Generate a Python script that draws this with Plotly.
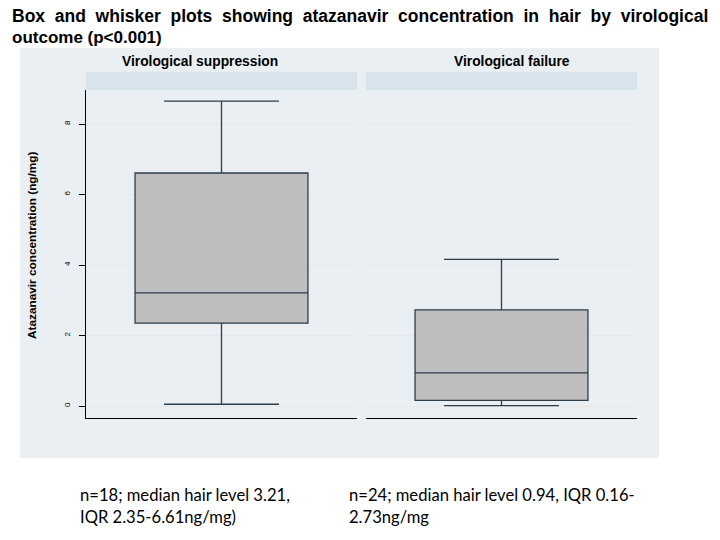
import plotly.graph_objects as go

# Data (box statistics, ng/mg)
groups = ["Virological suppression", "Virological failure"]
lower_whisker = [0.05, 0.01]
q1_vals = [2.35, 0.16]
median_vals = [3.21, 0.94]
q3_vals = [6.61, 2.73]
upper_whisker = [8.65, 4.16]
y_ticks = [0, 2, 4, 6, 8]
notes = ["n=18; median hair level 3.21,<br>IQR 2.35-6.61ng/mg)",
         "n=24; median hair level 0.94, IQR 0.16-<br>2.73ng/mg"]
title_line1 = "Box and whisker plots showing atazanavir concentration in hair by virological"
title_line2 = "outcome (p<0.001)"

W, H = 720, 540
def px(x): return x / W
def py(y): return 1 - y / H

BOX_LINE = "#2d3e4c"
BOX_FILL = "#bebebe"
OUTER_BG = "#e9eff2"
STRIP_BG = "#d9e5ec"

fig = go.Figure()
for i, g in enumerate(groups):
    fig.add_trace(go.Box(
        x=[0], q1=[q1_vals[i]], median=[median_vals[i]], q3=[q3_vals[i]],
        lowerfence=[lower_whisker[i]], upperfence=[upper_whisker[i]],
        name=g, width=0.638, whiskerwidth=0.665,
        fillcolor=BOX_FILL, line=dict(color=BOX_LINE, width=1.3),
        boxpoints=False, hoverinfo="skip",
        xaxis="x" if i == 0 else "x2", yaxis="y" if i == 0 else "y2",
    ))

panels = [(86, 357), (366, 637)]
yrange = [-0.34, 8.965]
axis_common = dict(range=[-0.5, 0.5], showticklabels=False, ticks="", showgrid=False,
                   zeroline=False, showline=True, linecolor="black", linewidth=1.2,
                   mirror=False)
fig.update_layout(
    width=W, height=H, margin=dict(l=0, r=0, t=0, b=0),
    paper_bgcolor="white", plot_bgcolor="white", showlegend=False,
    xaxis=dict(domain=[px(86), px(357)], anchor="y", **axis_common),
    xaxis2=dict(domain=[px(366), px(637)], anchor="y2", **axis_common),
    yaxis=dict(domain=[py(418), py(90)], range=yrange, tickvals=y_ticks,
               ticktext=[str(v) for v in y_ticks], tickangle=-90,
               ticks="outside", ticklen=6, tickcolor="black", tickwidth=1,
               ticklabelstandoff=6,
               tickfont=dict(family="Liberation Sans", size=8, color="black"),
               showgrid=True, gridcolor="#e8e8e8", gridwidth=1, zeroline=False,
               showline=True, linecolor="black", linewidth=1.2, anchor="x"),
    yaxis2=dict(domain=[py(418), py(90)], range=yrange, tickvals=y_ticks,
                showticklabels=False, ticks="", showgrid=True, gridcolor="#e8e8e8",
                gridwidth=1, zeroline=False, showline=False, anchor="x2",
                matches="y"),
)

shapes = [
    dict(type="rect", xref="paper", yref="paper", x0=px(20), x1=px(659),
         y0=py(458), y1=py(48), fillcolor=OUTER_BG, line=dict(width=0), layer="below"),
]
for (a, b) in panels:
    shapes.append(dict(type="rect", xref="paper", yref="paper", x0=px(a), x1=px(b),
                       y0=py(90), y1=py(71.7), fillcolor=STRIP_BG, line=dict(width=0),
                       layer="below"))
fig.update_layout(shapes=shapes)

# justified-looking first title line: widen the word gaps
line1_wide = " \u00a0".join(title_line1.split(" "))

ann = []
ann.append(dict(text="<b>" + line1_wide + "</b>",
                x=px(10), y=py(16), xref="paper", yref="paper", xanchor="left", yanchor="middle",
                showarrow=False, font=dict(family="Liberation Sans", size=17.5, color="black")))
ann.append(dict(text="<b>" + title_line2.replace("<", "&lt;") + "</b>",
                x=px(10), y=py(37), xref="paper", yref="paper", xanchor="left", yanchor="middle",
                showarrow=False, font=dict(family="Liberation Sans", size=17, color="black")))
for cx, g in zip([200, 512], groups):
    ann.append(dict(text="<b>" + g + "</b>", x=px(cx), y=py(61.5), xref="paper", yref="paper",
                    xanchor="center", yanchor="middle", showarrow=False,
                    font=dict(family="Liberation Sans", size=13.8, color="black")))
ann.append(dict(text="<b>Atazanavir concentration (ng/mg)</b>", x=px(32), y=py(245),
                xref="paper", yref="paper", textangle=-90, xanchor="center", yanchor="middle",
                showarrow=False, font=dict(family="Liberation Sans", size=11.8, color="black")))
for lx, t in zip([78, 347], notes):
    ann.append(dict(text=t, x=px(lx), y=py(505.5), xref="paper", yref="paper",
                    xanchor="left", yanchor="middle", align="left", showarrow=False,
                    font=dict(family="Lato", size=16.6, color="black")))
fig.update_layout(annotations=ann)

fig.write_html("out.html", config={"displayModeBar": False},
               post_script="document.body.style.margin='0px';")
